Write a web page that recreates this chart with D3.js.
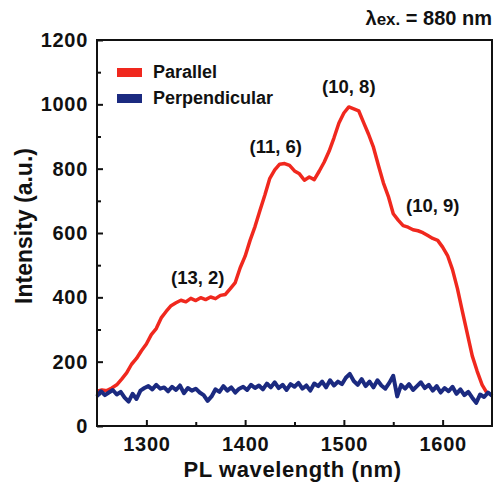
<!DOCTYPE html>
<html>
<head>
<meta charset="utf-8">
<script src="https://cdn.jsdelivr.net/npm/d3@7"></script>
<style>
  body { margin: 0; background: #fff; }
  svg text { font-family: 'Liberation Sans', Arial, sans-serif; font-weight: bold; fill: #111; }
</style>
</head>
<body>
<svg id="chart" width="495" height="483"></svg>
<script>
// wavelength grids (nm)
const parStart = 1250, parStep = 5
const perpStart = 1250, perpStep = 4

// Parallel polarisation intensity, every 5 nm from 1250
const parallel = [
  108, 112, 110, 118, 128, 146, 165, 192, 210, 234,
  255, 284, 303, 336, 356, 374, 383, 391, 386, 397,
  390, 399, 393, 401, 396, 406, 409, 427, 446, 492,
  528, 577, 620, 670, 718, 770, 796, 814, 816, 810,
  793, 784, 764, 774, 766, 792, 820, 854, 896, 942,
  973, 992, 986, 980, 943, 907, 866, 810, 756, 714,
  660, 640, 623, 618, 610, 607, 601, 592, 583, 577,
  556, 530, 486, 427, 356, 287, 218, 170, 128, 102
]

// Perpendicular polarisation intensity, every 4 nm from 1250
const perpendicular = [
  92, 108, 96, 104, 112, 98, 106, 88, 76, 100,
  84, 110, 118, 124, 114, 128, 116, 120, 108, 122,
  112, 126, 102, 118, 110, 116, 104, 96, 78, 92,
  114, 106, 124, 110, 120, 104, 116, 122, 112, 128,
  118, 126, 114, 132, 120, 136, 118, 128, 112, 130,
  122, 134, 116, 126, 110, 132, 124, 138, 120, 142,
  126, 138, 130, 150, 162, 140, 128, 146, 124, 138,
  120, 142, 126, 116, 134, 156, 92, 128, 116, 130,
  112, 124, 136, 118, 128, 110, 124, 104, 118, 108,
  122, 100, 114, 96, 106, 88, 72, 98, 90, 104,
  94
]

const xTicks = [1300, 1400, 1500, 1600]
const xMinor = [1350, 1450, 1550]
const yTicks = [0, 200, 400, 600, 800, 1000, 1200]
const yMinor = [100, 300, 500, 700, 900, 1100]

const peaks = [
  { label: '(13, 2)', x: 1352, y: 440 },
  { label: '(11, 6)', x: 1431, y: 850 },
  { label: '(10, 8)', x: 1505, y: 1035 },
  { label: '(10, 9)', x: 1590, y: 665 }
]

const legendItems = [
  { name: 'Parallel', color: '#f0281e' },
  { name: 'Perpendicular', color: '#1b2a80' }
]

const margin = { top: 40, left: 97, right: 3, bottom: 57 }
const width = 495, height = 483
const innerW = width - margin.left - margin.right
const innerH = height - margin.top - margin.bottom

const svg = d3.select('#chart')
const g = svg.append('g').attr('transform', `translate(${margin.left},${margin.top})`)

const x = d3.scaleLinear().domain([1250, 1650]).range([0, innerW])
const y = d3.scaleLinear().domain([0, 1200]).range([innerH, 0])

// axes, ticks pointing inward
const xAxis = g.append('g').attr('transform', `translate(0,${innerH})`)
  .call(d3.axisBottom(x).tickValues(xTicks).tickFormat(d3.format('d'))
    .tickSizeInner(-6).tickSizeOuter(0).tickPadding(11))
xAxis.append('g').call(d3.axisBottom(x).tickValues(xMinor).tickSizeInner(-4).tickSizeOuter(0).tickFormat(''))

const yAxis = g.append('g')
  .call(d3.axisLeft(y).tickValues(yTicks).tickFormat(d3.format('d'))
    .tickSizeInner(-6).tickSizeOuter(0).tickPadding(9))
yAxis.append('g').call(d3.axisLeft(y).tickValues(yMinor).tickSizeInner(-4).tickSizeOuter(0).tickFormat(''))

g.selectAll('.domain').remove()
g.selectAll('.tick line').attr('stroke', '#111').attr('stroke-width', 2)
g.selectAll('.tick text').attr('font-size', 20).attr('font-weight', 'bold')
  .attr('letter-spacing', 0.7)
  .attr('font-family', "'Liberation Sans', Arial, sans-serif").attr('fill', '#111')

// lines
const linePar = d3.line().x((d, i) => x(parStart + i * parStep)).y(d => y(d))
const linePerp = d3.line().x((d, i) => x(perpStart + i * perpStep)).y(d => y(d))

g.append('path').datum(parallel)
  .attr('d', linePar)
  .attr('fill', 'none')
  .attr('stroke', legendItems[0].color)
  .attr('stroke-width', 3.5)
  .attr('stroke-linejoin', 'round')

g.append('path').datum(perpendicular)
  .attr('d', linePerp)
  .attr('fill', 'none')
  .attr('stroke', legendItems[1].color)
  .attr('stroke-width', 4)
  .attr('stroke-linejoin', 'round')

// frame
g.append('rect').attr('width', innerW).attr('height', innerH)
  .attr('fill', 'none').attr('stroke', '#111').attr('stroke-width', 2)

// peak labels
g.selectAll('.peak').data(peaks).enter().append('text')
  .attr('class', 'peak')
  .attr('x', d => x(d.x))
  .attr('y', d => y(d.y))
  .attr('text-anchor', 'middle')
  .attr('font-size', 18.5)
  .text(d => d.label)

// legend
const legend = g.selectAll('.leg').data(legendItems).enter().append('g')
  .attr('transform', (d, i) => `translate(20,${28 + i * 26})`)
legend.append('rect').attr('width', 25).attr('height', 9).attr('fill', d => d.color)
legend.append('text').attr('x', 36).attr('y', 10).attr('font-size', 18).text(d => d.name)

// axis titles
svg.append('text')
  .attr('x', margin.left + innerW / 2 - 2).attr('y', 477)
  .attr('text-anchor', 'middle').attr('font-size', 22)
  .attr('letter-spacing', 0.6)
  .text('PL wavelength (nm)')

svg.append('text')
  .attr('transform', `translate(32,226) rotate(-90)`)
  .attr('text-anchor', 'middle').attr('font-size', 23)
  .text('Intensity (a.u.)')

// excitation note
const note = svg.append('text')
  .attr('x', 492).attr('y', 25).attr('text-anchor', 'end').attr('font-size', 20)
note.append('tspan').text('λ')
note.append('tspan').attr('font-size', 17).text('ex.')
note.append('tspan').text(' = 880 nm')
</script>
</body>
</html>
